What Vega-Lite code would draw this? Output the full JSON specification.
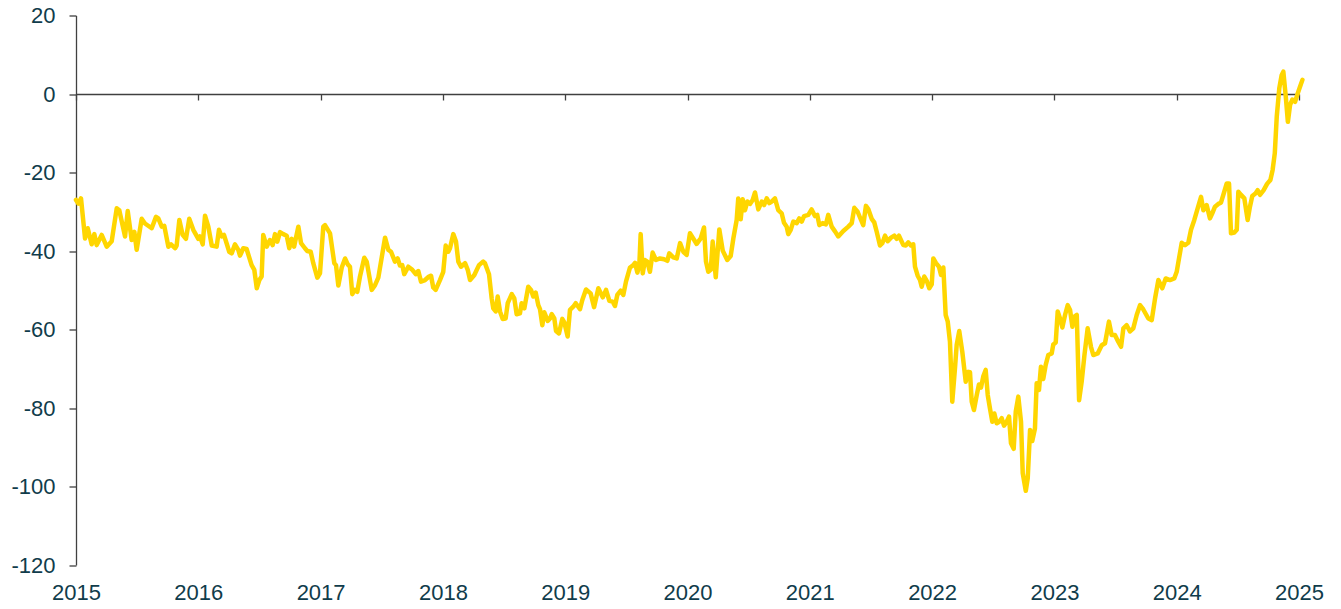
{
  "$schema": "https://vega.github.io/schema/vega-lite/v6.json",
  "autosize": "none",
  "width": 1223,
  "height": 549.5,
  "padding": {"left": 76, "top": 15.5, "right": 42, "bottom": 44},
  "background": "white",
  "config": {"view": {"stroke": null}, "font": "Liberation Sans"},
  "data": {"values": [
{"year":2015.000,"v":-27.0},{"year":2015.019,"v":-27.9},{"year":2015.041,"v":-26.6},{"year":2015.074,"v":-36.8},{"year":2015.096,"v":-34.2},{"year":2015.128,"v":-38.3},{"year":2015.150,"v":-35.7},{"year":2015.169,"v":-38.5},{"year":2015.210,"v":-35.9},{"year":2015.251,"v":-38.9},{"year":2015.292,"v":-37.5},{"year":2015.333,"v":-29.1},{"year":2015.354,"v":-29.6},{"year":2015.401,"v":-36.3},{"year":2015.423,"v":-29.8},{"year":2015.455,"v":-37.2},{"year":2015.477,"v":-35.1},{"year":2015.496,"v":-39.7},{"year":2015.537,"v":-31.8},{"year":2015.564,"v":-33.0},{"year":2015.619,"v":-34.2},{"year":2015.654,"v":-31.3},{"year":2015.673,"v":-31.7},{"year":2015.701,"v":-33.8},{"year":2015.722,"v":-33.6},{"year":2015.755,"v":-38.9},{"year":2015.777,"v":-38.3},{"year":2015.810,"v":-39.3},{"year":2015.823,"v":-38.6},{"year":2015.845,"v":-32.1},{"year":2015.872,"v":-35.9},{"year":2015.899,"v":-36.9},{"year":2015.926,"v":-31.8},{"year":2015.959,"v":-34.6},{"year":2016.000,"v":-36.9},{"year":2016.014,"v":-36.3},{"year":2016.036,"v":-38.3},{"year":2016.055,"v":-31.0},{"year":2016.082,"v":-33.8},{"year":2016.110,"v":-38.6},{"year":2016.150,"v":-38.9},{"year":2016.169,"v":-34.6},{"year":2016.191,"v":-36.3},{"year":2016.210,"v":-35.9},{"year":2016.253,"v":-40.2},{"year":2016.273,"v":-40.6},{"year":2016.300,"v":-38.3},{"year":2016.327,"v":-39.7},{"year":2016.341,"v":-41.2},{"year":2016.368,"v":-39.3},{"year":2016.395,"v":-39.5},{"year":2016.436,"v":-43.6},{"year":2016.458,"v":-44.8},{"year":2016.478,"v":-49.5},{"year":2016.499,"v":-47.4},{"year":2016.518,"v":-46.5},{"year":2016.531,"v":-35.9},{"year":2016.559,"v":-38.9},{"year":2016.586,"v":-37.2},{"year":2016.608,"v":-38.5},{"year":2016.627,"v":-35.7},{"year":2016.646,"v":-37.6},{"year":2016.668,"v":-35.2},{"year":2016.695,"v":-35.7},{"year":2016.723,"v":-36.1},{"year":2016.744,"v":-39.3},{"year":2016.764,"v":-36.9},{"year":2016.783,"v":-38.9},{"year":2016.818,"v":-33.8},{"year":2016.840,"v":-38.0},{"year":2016.872,"v":-39.3},{"year":2016.891,"v":-40.0},{"year":2016.919,"v":-40.2},{"year":2016.940,"v":-43.1},{"year":2016.973,"v":-46.8},{"year":2016.995,"v":-45.7},{"year":2017.022,"v":-33.8},{"year":2017.036,"v":-33.4},{"year":2017.077,"v":-35.5},{"year":2017.112,"v":-43.1},{"year":2017.126,"v":-43.6},{"year":2017.145,"v":-48.8},{"year":2017.173,"v":-44.2},{"year":2017.200,"v":-41.9},{"year":2017.222,"v":-43.4},{"year":2017.240,"v":-44.0},{"year":2017.259,"v":-51.0},{"year":2017.281,"v":-49.9},{"year":2017.300,"v":-50.4},{"year":2017.322,"v":-46.5},{"year":2017.357,"v":-41.7},{"year":2017.377,"v":-42.7},{"year":2017.418,"v":-49.9},{"year":2017.445,"v":-48.7},{"year":2017.472,"v":-46.8},{"year":2017.494,"v":-42.7},{"year":2017.527,"v":-36.6},{"year":2017.554,"v":-39.7},{"year":2017.576,"v":-40.2},{"year":2017.608,"v":-42.7},{"year":2017.630,"v":-41.9},{"year":2017.649,"v":-43.7},{"year":2017.668,"v":-43.6},{"year":2017.684,"v":-45.9},{"year":2017.717,"v":-44.0},{"year":2017.750,"v":-44.8},{"year":2017.778,"v":-45.9},{"year":2017.799,"v":-45.1},{"year":2017.821,"v":-47.8},{"year":2017.854,"v":-47.4},{"year":2017.886,"v":-46.5},{"year":2017.903,"v":-46.3},{"year":2017.921,"v":-49.3},{"year":2017.941,"v":-49.9},{"year":2017.976,"v":-47.4},{"year":2018.003,"v":-45.3},{"year":2018.023,"v":-38.6},{"year":2018.044,"v":-40.2},{"year":2018.058,"v":-39.3},{"year":2018.085,"v":-35.7},{"year":2018.107,"v":-37.6},{"year":2018.126,"v":-42.7},{"year":2018.148,"v":-44.0},{"year":2018.181,"v":-43.1},{"year":2018.203,"v":-44.8},{"year":2018.222,"v":-47.4},{"year":2018.257,"v":-46.1},{"year":2018.295,"v":-43.6},{"year":2018.330,"v":-42.7},{"year":2018.344,"v":-43.1},{"year":2018.377,"v":-45.9},{"year":2018.399,"v":-52.1},{"year":2018.412,"v":-54.6},{"year":2018.432,"v":-55.4},{"year":2018.448,"v":-51.6},{"year":2018.467,"v":-55.4},{"year":2018.489,"v":-57.3},{"year":2018.513,"v":-57.2},{"year":2018.530,"v":-53.3},{"year":2018.563,"v":-51.0},{"year":2018.584,"v":-52.1},{"year":2018.603,"v":-56.1},{"year":2018.630,"v":-55.9},{"year":2018.644,"v":-53.3},{"year":2018.666,"v":-54.6},{"year":2018.698,"v":-49.1},{"year":2018.720,"v":-49.9},{"year":2018.739,"v":-51.6},{"year":2018.759,"v":-50.6},{"year":2018.780,"v":-53.8},{"year":2018.794,"v":-54.8},{"year":2018.813,"v":-58.9},{"year":2018.829,"v":-55.6},{"year":2018.857,"v":-57.8},{"year":2018.876,"v":-57.2},{"year":2018.890,"v":-56.1},{"year":2018.911,"v":-57.2},{"year":2018.925,"v":-60.4},{"year":2018.949,"v":-61.0},{"year":2018.976,"v":-57.3},{"year":2018.993,"v":-58.2},{"year":2019.020,"v":-61.8},{"year":2019.039,"v":-55.0},{"year":2019.066,"v":-54.2},{"year":2019.086,"v":-53.3},{"year":2019.121,"v":-54.8},{"year":2019.140,"v":-52.5},{"year":2019.170,"v":-49.8},{"year":2019.208,"v":-50.8},{"year":2019.236,"v":-54.3},{"year":2019.271,"v":-49.5},{"year":2019.307,"v":-51.8},{"year":2019.334,"v":-49.9},{"year":2019.361,"v":-52.7},{"year":2019.388,"v":-52.9},{"year":2019.407,"v":-54.0},{"year":2019.426,"v":-51.2},{"year":2019.454,"v":-50.1},{"year":2019.475,"v":-51.2},{"year":2019.497,"v":-47.8},{"year":2019.530,"v":-44.2},{"year":2019.557,"v":-43.6},{"year":2019.571,"v":-43.0},{"year":2019.590,"v":-45.5},{"year":2019.606,"v":-43.6},{"year":2019.617,"v":-35.7},{"year":2019.634,"v":-45.7},{"year":2019.652,"v":-42.3},{"year":2019.671,"v":-42.7},{"year":2019.693,"v":-45.3},{"year":2019.715,"v":-40.4},{"year":2019.742,"v":-42.3},{"year":2019.775,"v":-41.9},{"year":2019.808,"v":-42.1},{"year":2019.835,"v":-42.5},{"year":2019.851,"v":-40.6},{"year":2019.884,"v":-41.6},{"year":2019.912,"v":-41.9},{"year":2019.939,"v":-38.0},{"year":2019.966,"v":-40.2},{"year":2019.993,"v":-41.0},{"year":2020.020,"v":-35.5},{"year":2020.047,"v":-36.8},{"year":2020.075,"v":-38.2},{"year":2020.108,"v":-36.8},{"year":2020.135,"v":-34.0},{"year":2020.151,"v":-42.7},{"year":2020.170,"v":-45.3},{"year":2020.190,"v":-44.8},{"year":2020.206,"v":-37.6},{"year":2020.231,"v":-46.7},{"year":2020.260,"v":-34.5},{"year":2020.288,"v":-39.9},{"year":2020.325,"v":-42.3},{"year":2020.353,"v":-41.3},{"year":2020.375,"v":-36.8},{"year":2020.402,"v":-32.1},{"year":2020.415,"v":-26.6},{"year":2020.435,"v":-31.9},{"year":2020.451,"v":-26.8},{"year":2020.470,"v":-29.6},{"year":2020.489,"v":-27.4},{"year":2020.511,"v":-28.0},{"year":2020.533,"v":-27.0},{"year":2020.552,"v":-25.1},{"year":2020.579,"v":-29.4},{"year":2020.607,"v":-27.4},{"year":2020.626,"v":-28.3},{"year":2020.648,"v":-26.6},{"year":2020.669,"v":-27.8},{"year":2020.688,"v":-27.4},{"year":2020.715,"v":-26.6},{"year":2020.742,"v":-29.6},{"year":2020.770,"v":-30.4},{"year":2020.789,"v":-32.8},{"year":2020.811,"v":-33.8},{"year":2020.824,"v":-35.7},{"year":2020.844,"v":-34.6},{"year":2020.865,"v":-32.5},{"year":2020.893,"v":-32.9},{"year":2020.914,"v":-31.7},{"year":2020.934,"v":-32.5},{"year":2020.953,"v":-31.1},{"year":2020.988,"v":-30.8},{"year":2021.015,"v":-29.4},{"year":2021.042,"v":-31.1},{"year":2021.061,"v":-30.8},{"year":2021.078,"v":-33.4},{"year":2021.105,"v":-32.9},{"year":2021.132,"v":-33.2},{"year":2021.151,"v":-30.8},{"year":2021.179,"v":-33.8},{"year":2021.206,"v":-35.0},{"year":2021.233,"v":-36.3},{"year":2021.274,"v":-34.9},{"year":2021.315,"v":-33.8},{"year":2021.343,"v":-32.9},{"year":2021.364,"v":-29.0},{"year":2021.391,"v":-30.0},{"year":2021.419,"v":-32.1},{"year":2021.437,"v":-33.4},{"year":2021.459,"v":-28.5},{"year":2021.478,"v":-29.3},{"year":2021.506,"v":-31.8},{"year":2021.527,"v":-32.7},{"year":2021.547,"v":-35.1},{"year":2021.574,"v":-38.6},{"year":2021.593,"v":-38.0},{"year":2021.615,"v":-36.1},{"year":2021.637,"v":-37.5},{"year":2021.664,"v":-36.6},{"year":2021.691,"v":-36.1},{"year":2021.711,"v":-36.9},{"year":2021.729,"v":-36.1},{"year":2021.765,"v":-38.5},{"year":2021.784,"v":-38.6},{"year":2021.805,"v":-37.8},{"year":2021.827,"v":-38.6},{"year":2021.846,"v":-38.3},{"year":2021.860,"v":-44.0},{"year":2021.882,"v":-46.3},{"year":2021.901,"v":-47.4},{"year":2021.915,"v":-49.1},{"year":2021.936,"v":-46.5},{"year":2021.956,"v":-47.6},{"year":2021.977,"v":-49.5},{"year":2021.997,"v":-48.5},{"year":2022.010,"v":-41.9},{"year":2022.032,"v":-43.1},{"year":2022.056,"v":-44.0},{"year":2022.073,"v":-46.1},{"year":2022.092,"v":-44.2},{"year":2022.111,"v":-56.3},{"year":2022.128,"v":-58.0},{"year":2022.146,"v":-63.1},{"year":2022.165,"v":-78.4},{"year":2022.187,"v":-69.9},{"year":2022.201,"v":-63.9},{"year":2022.222,"v":-60.4},{"year":2022.247,"v":-65.7},{"year":2022.275,"v":-73.3},{"year":2022.296,"v":-70.8},{"year":2022.310,"v":-70.9},{"year":2022.324,"v":-78.4},{"year":2022.342,"v":-80.5},{"year":2022.365,"v":-76.7},{"year":2022.383,"v":-74.0},{"year":2022.400,"v":-74.8},{"year":2022.418,"v":-72.0},{"year":2022.438,"v":-70.3},{"year":2022.455,"v":-76.7},{"year":2022.473,"v":-80.1},{"year":2022.492,"v":-83.5},{"year":2022.509,"v":-81.4},{"year":2022.528,"v":-83.9},{"year":2022.549,"v":-83.5},{"year":2022.569,"v":-82.6},{"year":2022.588,"v":-84.5},{"year":2022.610,"v":-83.5},{"year":2022.629,"v":-82.2},{"year":2022.645,"v":-89.0},{"year":2022.667,"v":-90.4},{"year":2022.684,"v":-80.9},{"year":2022.705,"v":-77.1},{"year":2022.727,"v":-83.5},{"year":2022.741,"v":-96.6},{"year":2022.766,"v":-101.1},{"year":2022.782,"v":-97.9},{"year":2022.801,"v":-85.6},{"year":2022.819,"v":-88.4},{"year":2022.841,"v":-85.2},{"year":2022.855,"v":-73.7},{"year":2022.874,"v":-75.4},{"year":2022.890,"v":-69.5},{"year":2022.909,"v":-72.6},{"year":2022.929,"v":-69.0},{"year":2022.950,"v":-66.5},{"year":2022.978,"v":-66.1},{"year":2022.991,"v":-63.8},{"year":2023.011,"v":-63.3},{"year":2023.027,"v":-55.4},{"year":2023.046,"v":-57.2},{"year":2023.065,"v":-59.5},{"year":2023.087,"v":-56.3},{"year":2023.109,"v":-53.8},{"year":2023.128,"v":-55.0},{"year":2023.147,"v":-59.3},{"year":2023.163,"v":-56.7},{"year":2023.183,"v":-56.3},{"year":2023.202,"v":-78.0},{"year":2023.223,"v":-73.3},{"year":2023.245,"v":-66.7},{"year":2023.272,"v":-59.7},{"year":2023.299,"v":-64.4},{"year":2023.318,"v":-66.5},{"year":2023.354,"v":-66.1},{"year":2023.387,"v":-64.0},{"year":2023.414,"v":-63.5},{"year":2023.446,"v":-58.0},{"year":2023.468,"v":-61.4},{"year":2023.495,"v":-61.4},{"year":2023.522,"v":-63.1},{"year":2023.545,"v":-64.4},{"year":2023.564,"v":-59.7},{"year":2023.591,"v":-58.9},{"year":2023.618,"v":-60.5},{"year":2023.645,"v":-59.7},{"year":2023.673,"v":-56.3},{"year":2023.700,"v":-53.8},{"year":2023.727,"v":-54.9},{"year":2023.768,"v":-57.2},{"year":2023.796,"v":-57.6},{"year":2023.823,"v":-52.1},{"year":2023.850,"v":-47.4},{"year":2023.882,"v":-49.5},{"year":2023.910,"v":-47.0},{"year":2023.945,"v":-47.4},{"year":2023.980,"v":-47.0},{"year":2024.000,"v":-45.3},{"year":2024.019,"v":-41.9},{"year":2024.041,"v":-37.9},{"year":2024.068,"v":-38.5},{"year":2024.095,"v":-37.9},{"year":2024.117,"v":-34.6},{"year":2024.144,"v":-32.1},{"year":2024.172,"v":-29.1},{"year":2024.199,"v":-26.2},{"year":2024.218,"v":-29.6},{"year":2024.245,"v":-28.3},{"year":2024.272,"v":-31.7},{"year":2024.291,"v":-30.4},{"year":2024.313,"v":-28.7},{"year":2024.340,"v":-28.0},{"year":2024.362,"v":-27.7},{"year":2024.389,"v":-24.9},{"year":2024.409,"v":-22.8},{"year":2024.428,"v":-22.8},{"year":2024.444,"v":-35.5},{"year":2024.471,"v":-35.3},{"year":2024.491,"v":-34.6},{"year":2024.504,"v":-24.9},{"year":2024.526,"v":-25.7},{"year":2024.553,"v":-26.6},{"year":2024.580,"v":-32.1},{"year":2024.599,"v":-28.7},{"year":2024.618,"v":-26.0},{"year":2024.646,"v":-25.3},{"year":2024.662,"v":-24.5},{"year":2024.681,"v":-25.7},{"year":2024.711,"v":-24.5},{"year":2024.739,"v":-22.9},{"year":2024.766,"v":-21.9},{"year":2024.784,"v":-19.4},{"year":2024.802,"v":-15.1},{"year":2024.818,"v":-5.8},{"year":2024.839,"v":1.5},{"year":2024.858,"v":4.8},{"year":2024.872,"v":5.7},{"year":2024.892,"v":-0.7},{"year":2024.909,"v":-7.1},{"year":2024.927,"v":-2.8},{"year":2024.946,"v":-1.4},{"year":2024.968,"v":-2.0},{"year":2024.990,"v":0.2},{"year":2025.009,"v":1.9},{"year":2025.028,"v":3.6}
  ]},
  "mark": {"type": "line", "color": "#FFD600", "strokeWidth": 4.5, "strokeJoin": "round", "strokeCap": "round"},
  "encoding": {
    "x": {
      "field": "year", "type": "quantitative",
      "scale": {"domain": [2015, 2025], "nice": false, "zero": false},
      "axis": {
        "title": null, "values": [2015, 2016, 2017, 2018, 2019, 2020, 2021, 2022, 2023, 2024, 2025],
        "labelExpr": "toString(datum.value)", "grid": false, "offset": -471,
        "domainColor": "#404040", "domainWidth": 1.3,
        "tickColor": "#404040", "tickWidth": 1.3, "tickSize": 6,
        "labelPadding": 482.6, "labelFlush": false, "labelOverlap": false,
        "labelFont": "Liberation Sans", "labelFontSize": 22, "labelColor": "#103C4B"
      }
    },
    "y": {
      "field": "v", "type": "quantitative",
      "scale": {"domain": [-120, 20], "nice": false, "zero": false},
      "axis": {
        "title": null, "values": [-120, -100, -80, -60, -40, -20, 0, 20],
        "labelExpr": "toString(datum.value)", "grid": false,
        "domainColor": "#404040", "domainWidth": 1.3,
        "tickColor": "#404040", "tickWidth": 1.3, "tickSize": 7,
        "labelPadding": 14, "labelOverlap": false,
        "labelFont": "Liberation Sans", "labelFontSize": 22, "labelColor": "#103C4B"
      }
    }
  }
}
